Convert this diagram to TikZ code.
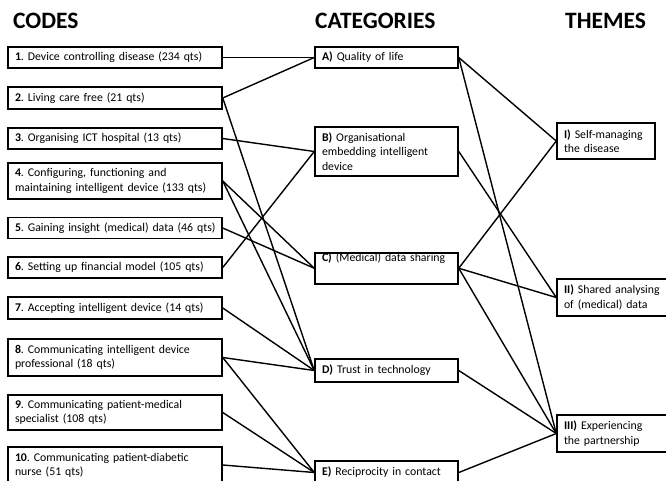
\documentclass[tikz,border=0pt]{standalone}
\usepackage{fontspec}
\setmainfont{Carlito}
\begin{document}
\frenchspacing
\begin{tikzpicture}[x=1pt,y=1pt,
  bx/.style={draw, line width=1.5pt, rectangle, inner xsep=7pt, inner ysep=0pt, align=left,
    font=\fontsize{11.8}{14.2}\selectfont\frenchspacing},
  codebox/.style={bx, minimum width=214pt, text width=200pt},
  catbox/.style={bx, minimum width=143pt, text width=129pt},
  themeone/.style={bx, minimum width=98pt, text width=84pt},
  themetwo/.style={bx, minimum width=110pt, text width=96pt},
  link/.style={line width=1.4pt},
  title/.style={anchor=base west, inner sep=0pt, font=\fontsize{23.5}{27}\selectfont\bfseries}]
\useasboundingbox (0,0) rectangle (666,-481);

% titles
\node[title] (tcodes) at (13,-29) {CODES};
\node[title] (tcats) at (315,-29) {CATEGORIES};
\node[title] (tthemes) at (565,-29) {THEMES};

% codes
\node[codebox, minimum height=21pt] (c1) at (115,-57.5) {\textbf{1}. Device controlling disease (234 qts)};
\node[codebox, minimum height=22pt] (c2) at (115,-98) {\textbf{2}. Living care free (21 qts)};
\node[codebox, minimum height=21pt] (c3) at (115,-138.5) {\textbf{3}. Organising ICT hospital (13 qts)};
\node[codebox, minimum height=36pt] (c4) at (115,-181) {\textbf{4}. Configuring, functioning and\\maintaining intelligent device (133 qts)};
\node[codebox, minimum height=21pt] (c5) at (115,-228) {\mbox{\textbf{5}. Gaining insight (medical) data (46 qts)}};
\node[codebox, minimum height=21pt] (c6) at (115,-267.5) {\textbf{6}. Setting up financial model (105 qts)};
\node[codebox, minimum height=22pt] (c7) at (115,-308) {\textbf{7}. Accepting intelligent device (14 qts)};
\node[codebox, minimum height=37pt] (c8) at (115,-357.5) {\textbf{8}. Communicating intelligent device\\professional (18 qts)};
\node[codebox, minimum height=35pt] (c9) at (115,-412.5) {\textbf{9}. Communicating patient-medical\\specialist (108 qts)};
\node[codebox, minimum height=36pt] (c10) at (115,-465) {\textbf{10}. Communicating patient-diabetic\\nurse (51 qts)};

% categories
\node[catbox, minimum height=21pt] (A) at (386.5,-57.5) {\textbf{A)} Quality of life};
\node[catbox, minimum height=49pt] (B) at (386.5,-151.5) {\textbf{B)} Organisational\\embedding intelligent\\device};
\node[catbox, anchor=north, text height=7pt, text depth=20pt, inner ysep=2pt] (C) at (386.5,-252) {\textbf{C)} (Medical) data sharing};
\node[catbox, minimum height=23pt] (D) at (386.5,-370.5) {\textbf{D)} Trust in technology};
\node[catbox, minimum height=23pt] (E) at (386.5,-472.5) {\textbf{E)} Reciprocity in contact};

% themes
\node[themeone, minimum height=36pt] (T1) at (606,-141) {\textbf{I)} Self-managing\\the disease};
\node[themetwo, minimum height=37pt] (T2) at (612,-297.5) {\mbox{\textbf{II)} Shared analysing}\\of (medical) data};
\node[themetwo, minimum height=37pt] (T3) at (612,-433.5) {\textbf{III)} Experiencing\\the partnership};

% codes -> categories
\draw[link] (c1.east) -- (A.west);
\draw[link] (c2.east) -- (A.west);
\draw[link] (c2.east) -- (D.west);
\draw[link] (c3.east) -- (B.west);
\draw[link] (c4.east) -- (C.west);
\draw[link] (c4.east) -- (D.west);
\draw[link] (c5.east) -- (C.west);
\draw[link] (c6.east) -- (B.west);
\draw[link] (c7.east) -- (D.west);
\draw[link] (c8.east) -- (D.west);
\draw[link] (c8.east) -- (E.west);
\draw[link] (c9.east) -- (E.west);
\draw[link] (c10.east) -- (E.west);

% categories -> themes
\draw[link] (A.east) -- (T1.west);
\draw[link] (A.east) -- (T3.west);
\draw[link] (B.east) -- (T2.west);
\draw[link] (C.east) -- (T1.west);
\draw[link] (C.east) -- (T2.west);
\draw[link] (C.east) -- (T3.west);
\draw[link] (D.east) -- (T3.west);
\draw[link] (E.east) -- (T3.west);
\end{tikzpicture}
\end{document}
